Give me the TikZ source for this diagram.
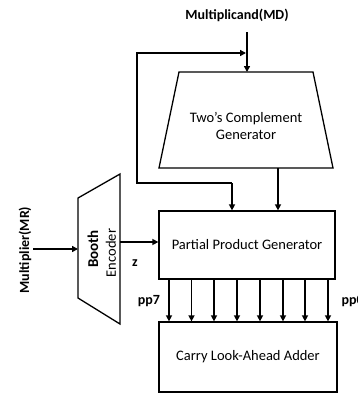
\documentclass[tikz,border=0pt]{standalone}
\usepackage{fontspec}
\setmainfont{Carlito}
\usetikzlibrary{arrows.meta}
\begin{document}
\begin{tikzpicture}[x=1pt,y=-1pt,
  wire/.style={line width=1.6pt},
  arr/.style={wire,-{Triangle[length=6pt,width=6pt]}},
  shp/.style={line width=1.3pt},
  lbl/.style={font=\fontsize{14}{15}\selectfont\bfseries},
  txt/.style={font=\fontsize{14.5}{17}\selectfont}]
\useasboundingbox (0,0) rectangle (357,394);
% Two's complement trapezoid
\draw[shp] (179,72) -- (313,72) -- (333,168) -- (159,168) -- cycle;
\node[txt,align=center] (tcg) at (246,126) {Two's Complement\\Generator};
\coordinate (tcgtop) at (247,72);
\coordinate (tcgbot) at (278,168);
% Partial product generator
\node[shp,draw,minimum width=176pt,minimum height=68pt,inner sep=0pt,txt] (ppg) at (247,245) {Partial Product Generator};
% CLA
\node[shp,draw,minimum width=178pt,minimum height=70pt,inner sep=0pt,txt] (cla) at (248,357) {Carry Look-Ahead Adder};
% Booth encoder
\draw[shp] (78,198) -- (120,174) -- (120,324) -- (78,298) -- cycle;
\node[rotate=90,font=\fontsize{15}{16}\selectfont\bfseries] (booth) at (93,249) {Booth};
\node[rotate=90,font=\fontsize{14.5}{16}\selectfont] (enc) at (111,253) {Encoder};
\coordinate (bin) at (78,249);
\coordinate (bout) at (120,242);
% Labels
\node[lbl] (md) at (237,15) {Multiplicand(MD)};
\node[lbl,rotate=90] (mr) at (25,250) {Multiplier(MR)};
\node[lbl] (z) at (135,263) {z};
\node[lbl] (pp7) at (149,301) {pp7};
\node[lbl,anchor=west] (pp0) at (338,301) {pp0};
% MD arrow
\coordinate (mdtop) at (247,32);
\draw[arr] (mdtop) -- (tcgtop);
% feedback loop
\coordinate (fb1) at (137,53);
\coordinate (fb2) at (137,183);
\coordinate (fb3) at (232,183);
\draw[arr] (fb3) -- (fb2) -- (fb1) -- (246,53);
\draw[arr] (fb3) -- (ppg.north -| fb3);
\draw[arr] (tcgbot) -- (ppg.north -| tcgbot);
% MR arrow
\coordinate (mrs) at (33,249);
\draw[arr] (mrs) -- (bin);
% z arrow
\draw[arr] (bout) -- (ppg.west |- bout);
% pp arrows
\foreach \x in {169,191.5,214,237,260,283,305,328}{
  \draw[arr] (ppg.south -| {(\x,0)}) -- (cla.north -| {(\x,0)});
}
\end{tikzpicture}
\end{document}
